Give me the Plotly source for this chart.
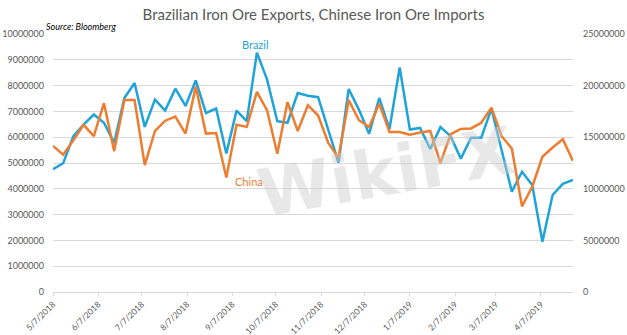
import pandas as pd
import plotly.graph_objects as go

# ---- data ----
dates = pd.date_range("2018-05-07", periods=52, freq="7D")

brazil = [4760000, 4990000, 6040000, 6490000, 6880000, 6560000, 5780000, 7520000,
          8100000, 6400000, 7460000, 7030000, 7880000, 7210000, 8200000, 6940000,
          7110000, 5370000, 7030000, 6620000, 9280000, 8230000, 6620000, 6560000,
          7710000, 7610000, 7550000, 6270000, 5010000, 7870000, 7070000, 6130000,
          7520000, 6320000, 8700000, 6300000, 6360000, 5540000, 6390000, 6040000,
          5170000, 5980000, 5980000, 7100000, 5480000, 3890000, 4660000, 4150000,
          1950000, 3760000, 4190000, 4340000]

china = [14150000, 13300000, 14700000, 16200000, 15100000, 18300000, 13650000, 18600000,
         18600000, 12300000, 15600000, 16600000, 17000000, 15350000, 19900000, 15350000,
         15400000, 11100000, 16200000, 16000000, 19400000, 17600000, 13400000, 18400000,
         15600000, 18100000, 17100000, 14450000, 13000000, 18600000, 16650000, 16000000,
         18250000, 15500000, 15500000, 15250000, 15450000, 15600000, 12500000, 15300000,
         15800000, 15850000, 16400000, 17850000, 15100000, 13900000, 8300000, 10200000,
         13100000, 14000000, 14800000, 12700000]

tick_dates = ["2018-05-07", "2018-06-07", "2018-07-07", "2018-08-07", "2018-09-07",
              "2018-10-07", "2018-11-07", "2018-12-07", "2019-01-07", "2019-02-07",
              "2019-03-07", "2019-04-07"]
tick_text = ["5/7/2018", "6/7/2018", "7/7/2018", "8/7/2018", "9/7/2018", "10/7/2018",
             "11/7/2018", "12/7/2018", "1/7/2019", "2/7/2019", "3/7/2019", "4/7/2019"]

BLUE = "#1FA3D9"
ORANGE = "#ED7D31"
GRAY = "#595959"
FONT = "Lato"

fig = go.Figure()
fig.add_trace(go.Scatter(x=dates, y=brazil, mode="lines", name="Brazil",
                         line=dict(color=BLUE, width=2.5), yaxis="y"))
fig.add_trace(go.Scatter(x=dates, y=china, mode="lines", name="China",
                         line=dict(color=ORANGE, width=2.5), yaxis="y2"))

fig.update_layout(
    width=627, height=335,
    margin=dict(l=53, r=54, t=34, b=43),
    paper_bgcolor="white", plot_bgcolor="white",
    showlegend=False,
    font=dict(family=FONT, color=GRAY, size=9),
    title=dict(text="Brazilian Iron Ore Exports, Chinese Iron Ore Imports",
               x=0.5, xanchor="center", y=0.955, yanchor="middle",
               font=dict(family=FONT, size=15, color=GRAY)),
    xaxis=dict(type="date", range=[dates[0], dates[-1]], automargin=False,
               tickvals=tick_dates, ticktext=tick_text, tickangle=-45,
               showgrid=False, showline=True, linecolor="#D9D9D9", linewidth=1,
               ticks="outside", ticklen=3, tickcolor="#D9D9D9", ticklabelstandoff=0,
               tickfont=dict(size=8.5, color=GRAY), zeroline=False),
    yaxis=dict(range=[0, 10000000], dtick=1000000, tickformat="d", automargin=False,
               showgrid=True, gridcolor="#D9D9D9", gridwidth=1, zeroline=False,
               ticks="", ticklabelstandoff=8,
               tickfont=dict(size=9, color=GRAY)),
    yaxis2=dict(range=[0, 25000000], dtick=5000000, tickformat="d", automargin=False,
                overlaying="y", side="right", showgrid=False, zeroline=False,
                ticks="", ticklabelstandoff=9,
                tickfont=dict(size=9, color=GRAY)),
)

# watermark
fig.add_annotation(text="<b>WikiFX</b>", xref="paper", yref="paper", x=0.64, y=0.22,
                   showarrow=False, textangle=-10,
                   font=dict(family="DejaVu Sans", size=66, color="rgba(205,205,205,0.45)"))

fig.add_annotation(text="<i>Source: Bloomberg</i>", xref="paper", yref="paper",
                   x=-0.017, y=1.0, xanchor="left", yanchor="bottom", showarrow=False,
                   font=dict(family=FONT, size=9, color="#000000"))
fig.add_annotation(text="Brazil", x=dates[20], y=9280000, yref="y", xanchor="center",
                   yanchor="bottom", yshift=0, xshift=-1, showarrow=False,
                   font=dict(family=FONT, size=11, color=BLUE))
fig.add_annotation(text="China", x=dates[18], y=11100000, yref="y2", xanchor="center",
                   yanchor="top", yshift=4, xshift=12, showarrow=False,
                   font=dict(family=FONT, size=11, color=ORANGE))

fig.write_html("out.html")
